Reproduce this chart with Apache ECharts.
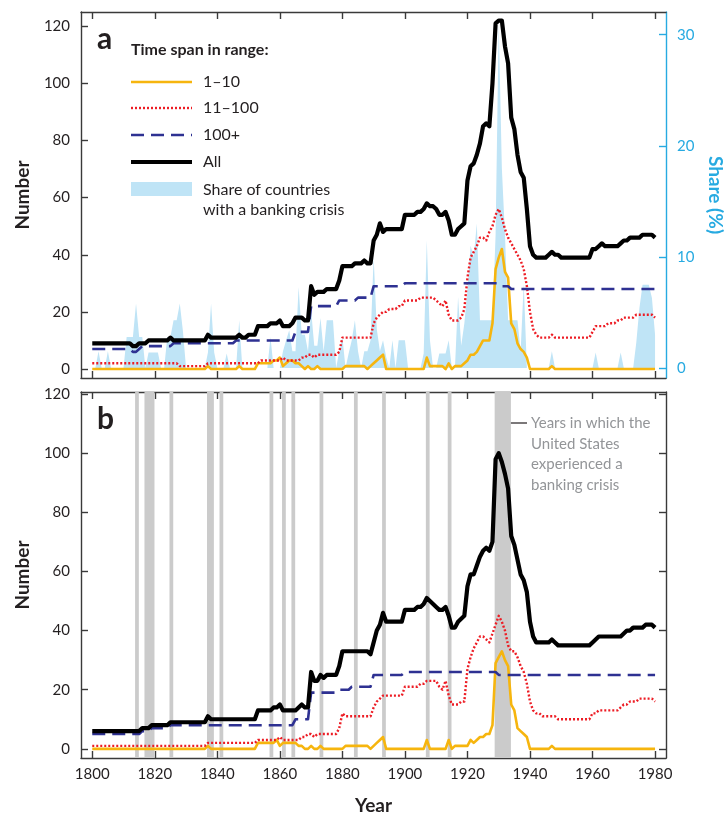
<!DOCTYPE html>
<html>
<head>
<meta charset="utf-8">
<script src="https://cdn.jsdelivr.net/npm/echarts@6/dist/echarts.min.js"></script>
<style>
html,body{margin:0;padding:0;background:#fff;}
#chart{width:725px;height:816px;}
</style>
</head>
<body>
<div id="chart"></div>
<script>
// ---------- DATA ----------
const years = [];
for (let y = 1800; y <= 1980; y++) years.push(y);

const xTicks = [1800, 1820, 1840, 1860, 1880, 1900, 1920, 1940, 1960, 1980];
const numberTicks = [0, 20, 40, 60, 80, 100, 120];
const shareTicks = [0, 10, 20, 30];

// US banking crisis years (panel b shading)
const usCrisisYears = [1814, 1817, 1818, 1819, 1825, 1837, 1838, 1841, 1857, 1861, 1864, 1873, 1884, 1893, 1907, 1914, 1929, 1930, 1931, 1932, 1933];

// Panel a: share of countries with a banking crisis (%)
const shareA = [
 0,0,1.5,0,0,1.5,0,0,0,0,
 0,2.8,2.8,2.8,5.8,2.8,2.8,0,1.4,1.4,
 1.4,1.4,0,0,2.8,2.8,4.3,4.3,5.8,3.3,
 0,0,0,0,0,0,0,1.4,5.8,1.4,
 0,0,0,1.3,0,0,0,4.3,0,0,
 0,0,0,0,0,0,0,2.8,0,0,
 0,1.5,2.5,3.4,1.5,1.5,7.3,3,3,1.5,
 5.2,2,2,4.5,1.5,4.3,4.3,4.3,0,1.5,
 2.8,0,1.3,2.5,4.3,1.5,0,1.5,1.5,2.5,
 10,3.5,1.5,2.5,1,0,2.5,0,2.5,2.5,
 2.5,0,0,0,0,0,1.3,11.5,2.5,0,
 0,1.3,1.3,1.3,2.5,0,0,6.4,2,4,
 7,11,10,13,4.3,4.3,4.3,4.3,4.3,12,
 31,18,12,4.3,4.3,4.3,4.3,1.5,7.6,0,
 0,0,0,0,0,0,0,1.5,0,0,
 0,0,0,0,0,0,0,0,0,0,
 0,1.4,0,0,0,0,0,0,0,1.4,
 0,0,0,0,2.3,5.4,7.5,7.5,7.5,6.3,
 3
];

// Panel a: All
const allA = [
 9,9,9,9,9,9,9,9,9,9,
 9,9,9,8,8,9,9,9,10,10,
 10,10,10,10,10,11,10,10,10,10,
 10,10,10,10,10,10,10,12,11,11,
 11,11,11,11,11,11,11,12,11,11,
 12,12,12,15,15,15,15,16,16,16,
 17,15,15,15,16,18,18,18,17,17,
 29,26,27,27,27,28,28,28,28,31,
 36,36,36,36,37,37,37,38,37,37,
 45,47,51,48,49,49,49,49,49,49,
 54,54,54,54,55,55,56,58,57,57,
 56,54,54,55,52,47,47,49,50,51,
 66,71,72,75,79,85,86,85,100,121,
 122,122,113,107,88,84,75,69,67,56,
 43,40,39,39,39,39,40,41,40,40,
 39,39,39,39,39,39,39,39,39,39,
 42,42,43,44,43,43,43,43,43,44,
 45,45,46,46,46,46,47,47,47,47,
 46
];

// Panel a: 100+
const longA = [
 7,7,7,7,7,7,7,7,7,7,
 7,7,7,6,6,7,8,8,8,8,
 8,8,8,8,8,8,9,9,9,9,
 9,9,9,9,9,9,9,9,9,9,
 9,9,9,9,9,9,10,10,10,10,
 10,10,10,10,10,10,10,10,10,10,
 10,10,10,10,10,13,13,13,13,13,
 22,22,22,22,22,22,22,22,22,24,
 24,24,24,24,24,25,25,25,25,25,
 29,29,29,29,29,29,29,29,29,29,
 30,30,30,30,30,30,30,30,30,30,
 30,30,30,30,30,30,30,30,30,30,
 30,30,30,30,30,30,30,30,30,30,
 30,29,29,29,28,28,28,28,28,28,
 28,28,28,28,28,28,28,28,28,28,
 28,28,28,28,28,28,28,28,28,28,
 28,28,28,28,28,28,28,28,28,28,
 28,28,28,28,28,28,28,28,28,28,
 28
];

// Panel a: 11–100
const midA = [
 2,2,2,2,2,2,2,2,2,2,
 2,2,2,2,2,2,2,2,2,2,
 2,2,2,2,2,2,2,2,1,1,
 1,1,1,1,1,1,1,2,2,2,
 2,2,2,2,2,2,2,2,2,2,
 2,2,2,2,3,3,3,3,3,3,
 3,4,3,3,3,3,3,4,4,5,
 5,4,5,5,5,5,5,5,5,6,
 11,11,11,11,11,11,11,11,11,11,
 16,18,19,20,20,21,21,21,22,22,
 24,24,24,24,24,25,25,25,25,25,
 24,23,22,24,19,17,17,17,18,21,
 32,39,41,43,46,46,45,48,50,54,
 56,53,49,46,44,42,40,38,35,29,
 20,14,12,11,11,11,11,12,11,11,
 11,11,11,11,11,11,11,11,11,11,
 13,15,15,15,15,16,16,16,17,17,
 18,18,18,18,19,19,19,19,19,19,
 18
];

// Panel a: 1–10
const shortA = [
 0,0,0,0,0,0,0,0,0,0,
 0,0,0,0,0,0,0,0,0,0,
 0,0,0,0,0,0,0,0,0,0,
 0,0,0,0,0,0,0,1,0,0,
 0,0,0,0,0,0,0,1,0,0,
 0,0,0,2,2,2,2,2,3,3,
 4,1,2,3,3,2,2,1,0,1,
 0,0,1,0,0,0,0,0,0,0,
 0,1,1,1,1,1,1,1,0,1,
 2,3,4,5,0,0,0,0,0,0,
 0,0,0,0,0,0,0,4,1,1,
 1,1,1,0,2,0,1,1,1,2,
 3,5,5,6,8,10,10,10,16,35,
 39,42,34,32,16,14,9,7,6,4,
 0,0,0,0,0,0,0,1,0,0,
 0,0,0,0,0,0,0,0,0,0,
 0,0,0,0,0,0,0,0,0,0,
 0,0,0,0,0,0,0,0,0,0,
 0
];

// Panel b: All
const allB = [
 6,6,6,6,6,6,6,6,6,6,
 6,6,6,6,6,6,7,7,7,8,
 8,8,8,8,8,9,9,9,9,9,
 9,9,9,9,9,9,9,11,10,10,
 10,10,10,10,10,10,10,10,10,10,
 10,10,10,13,13,13,13,13,14,14,
 15,13,13,13,13,13,14,15,14,14,
 26,23,23,25,24,25,25,25,25,28,
 33,33,33,33,33,33,33,33,33,32,
 36,40,42,46,43,43,43,43,43,43,
 47,47,47,47,48,48,49,51,50,49,
 48,47,47,48,45,41,41,43,44,45,
 55,59,59,62,65,67,68,67,70,98,
 100,97,93,88,72,69,64,59,57,53,
 43,38,36,36,36,36,36,37,36,35,
 35,35,35,35,35,35,35,35,35,35,
 36,37,38,38,38,38,38,38,38,38,
 39,40,40,41,41,41,41,42,42,42,
 41
];

// Panel b: 100+
const longB = [
 5,5,5,5,5,5,5,5,5,5,
 5,5,5,5,5,5,6,6,6,7,
 7,7,7,7,7,8,8,8,8,8,
 8,8,8,8,8,8,8,8,8,8,
 8,8,8,8,8,8,8,8,8,8,
 8,8,8,8,8,8,8,8,8,8,
 8,8,8,8,8,10,10,10,10,10,
 19,19,19,19,19,19,19,19,19,20,
 20,20,20,21,21,21,21,21,21,21,
 25,25,25,25,25,25,25,25,25,25,
 26,26,26,26,26,26,26,26,26,26,
 26,26,26,26,26,26,26,26,26,26,
 26,26,26,26,26,26,26,26,26,26,
 25,25,25,25,25,25,25,25,25,25,
 25,25,25,25,25,25,25,25,25,25,
 25,25,25,25,25,25,25,25,25,25,
 25,25,25,25,25,25,25,25,25,25,
 25,25,25,25,25,25,25,25,25,25,
 25
];

// Panel b: 11–100
const midB = [
 1,1,1,1,1,1,1,1,1,1,
 1,1,1,1,1,1,1,1,1,1,
 1,1,1,1,1,1,1,1,1,1,
 1,1,1,1,1,1,1,2,2,2,
 2,2,2,2,2,2,2,2,2,2,
 2,2,2,3,3,3,3,3,3,3,
 4,3,3,3,3,3,3,4,4,5,
 5,4,5,5,5,5,5,5,5,7,
 12,11,11,11,11,11,11,11,11,11,
 14,16,17,18,18,18,18,18,18,18,
 21,21,21,21,21,22,22,23,23,23,
 23,21,20,23,18,15,15,15,16,16,
 27,31,34,36,38,38,37,36,39,42,
 45,43,40,35,33,33,31,28,26,22,
 16,13,12,12,11,11,11,11,11,10,
 10,10,10,10,10,10,10,10,10,10,
 12,12,13,13,13,13,13,13,13,14,
 15,15,16,16,16,17,17,17,17,17,
 16
];

// Panel b: 1–10
const shortB = [
 0,0,0,0,0,0,0,0,0,0,
 0,0,0,0,0,0,0,0,0,0,
 0,0,0,0,0,0,0,0,0,0,
 0,0,0,0,0,0,0,1,0,0,
 0,0,0,0,0,0,0,0,0,0,
 0,0,0,2,2,2,2,2,2,3,
 1,2,2,2,2,2,1,1,0,0,
 1,0,0,1,0,0,0,0,0,0,
 0,1,1,1,1,1,1,1,1,0,
 1,2,3,4,0,0,0,0,0,0,
 0,0,0,0,0,0,0,3,0,0,
 0,0,0,0,3,0,1,1,1,1,
 1,3,2,3,4,4,5,5,8,29,
 31,33,30,28,15,13,7,6,5,4,
 0,0,0,0,0,0,0,1,0,0,
 0,0,0,0,0,0,0,0,0,0,
 0,0,0,0,0,0,0,0,0,0,
 0,0,0,0,0,0,0,0,0,0,
 0
];

// ---------- BUILD ----------
const pairs = vals => vals.map((v, i) => [years[i], v]);

// merge consecutive crisis years into shaded ranges
const crisisRanges = [];
usCrisisYears.forEach(y => {
  const last = crisisRanges[crisisRanges.length - 1];
  if (last && y === last[1] + 1) last[1] = y; else crisisRanges.push([y, y]);
});
const crisisAreas = crisisRanges.map(r => [{ xAxis: r[0] - 0.3 }, { xAxis: r[1] + 0.9 }]);

const FONT = 'Lato';
const TXT = '#231f20';
const FRAME = '#3a3a3a';
const C_SHORT = '#f6b50e';
const C_MID = '#ed1c24';
const C_LONG = '#2e3192';
const C_ALL = '#000000';
const C_SHARE = '#bfe4f6';
const C_SHARE_AX = '#27aae1';

const styles = {
  short: { color: C_SHORT, width: 2.6, type: 'solid' },
  mid: { color: C_MID, width: 2.4, type: [2, 2] },
  long: { color: C_LONG, width: 2.6, type: [13, 7] },
  all: { color: C_ALL, width: 4.2, type: 'solid' }
};

function lineSeries(name, vals, st, xi, yi, z) {
  return {
    name, type: 'line', data: pairs(vals), xAxisIndex: xi, yAxisIndex: yi,
    symbol: 'none', showSymbol: false, z,
    lineStyle: { color: st.color, width: st.width, type: st.type, cap: 'butt', join: 'round' },
    itemStyle: { color: st.color }
  };
}

const plain = v => String(Math.round(v));
const xBase = { type: 'value', min: 1796.4, max: 1983.5, splitLine: { show: false } };
function xAx(grid, pos, labels, extra) {
  return Object.assign({}, xBase, {
    gridIndex: grid, position: pos,
    axisLine: { show: true, onZero: false, lineStyle: { color: FRAME, width: 1.4 } },
    axisTick: { show: true, inside: true, length: 7, customValues: xTicks, lineStyle: { color: FRAME, width: 1.4 } },
    axisLabel: { show: labels, customValues: xTicks, formatter: plain, fontFamily: FONT, fontSize: 15, color: TXT, margin: 9 }
  }, extra || {});
}
function yAx(grid, pos, min, max, ticks, labels, color, extra) {
  return Object.assign({
    type: 'value', gridIndex: grid, position: pos, min, max,
    splitLine: { show: false },
    axisLine: { show: true, onZero: false, lineStyle: { color: color, width: 1.4 } },
    axisTick: { show: true, inside: true, length: 7, customValues: ticks, lineStyle: { color: color, width: 1.4 } },
    axisLabel: { show: labels, customValues: ticks, formatter: plain, fontFamily: FONT, fontSize: 15, color: color === FRAME ? TXT : color, margin: 11 }
  }, extra || {});
}

const option = {
  animation: false,
  backgroundColor: '#ffffff',
  grid: [
    { left: 81, top: 12, width: 585, height: 366, containLabel: false, outerBoundsMode: 'none' },
    { left: 81, top: 392, width: 585, height: 366, containLabel: false, outerBoundsMode: 'none' }
  ],
  xAxis: [
    xAx(0, 'bottom', false),
    xAx(0, 'top', false),
    xAx(1, 'bottom', true, { name: 'Year', nameLocation: 'middle', nameGap: 38,
      nameTextStyle: { fontFamily: FONT, fontWeight: 'bold', fontSize: 19, color: TXT } }),
    xAx(1, 'top', false)
  ],
  yAxis: [
    yAx(0, 'left', -3.15, 125, numberTicks, true, FRAME, { name: 'Number', nameLocation: 'middle', nameGap: 49,
      nameTextStyle: { fontFamily: FONT, fontWeight: 'bold', fontSize: 19, color: TXT } }),
    yAx(0, 'right', -0.9, 32.04, shareTicks, true, C_SHARE_AX, { name: 'Share (%)', nameLocation: 'middle', nameGap: 38, nameRotate: -90,
      nameTextStyle: { fontFamily: FONT, fontWeight: 'bold', fontSize: 19, color: C_SHARE_AX } }),
    yAx(1, 'left', -3.1, 120.7, numberTicks, true, FRAME, { name: 'Number', nameLocation: 'middle', nameGap: 49,
      nameTextStyle: { fontFamily: FONT, fontWeight: 'bold', fontSize: 19, color: TXT } }),
    yAx(1, 'right', -3.1, 120.7, numberTicks, false, FRAME)
  ],
  series: [
    {
      name: 'Share of countries with a banking crisis', type: 'line', data: pairs(shareA),
      xAxisIndex: 0, yAxisIndex: 1, symbol: 'none', z: 1,
      lineStyle: { width: 0, color: C_SHARE }, areaStyle: { color: C_SHARE, opacity: 1 }, itemStyle: { color: C_SHARE }
    },
    lineSeries('1–10', shortA, styles.short, 0, 0, 3),
    lineSeries('11–100', midA, styles.mid, 0, 0, 4),
    lineSeries('100+', longA, styles.long, 0, 0, 5),
    lineSeries('All', allA, styles.all, 0, 0, 6),
    Object.assign(lineSeries('1–10 (b)', shortB, styles.short, 2, 2, 3), {
      markArea: { silent: true, itemStyle: { color: '#cbcbcb' }, data: crisisAreas, z: 1 }
    }),
    lineSeries('11–100 (b)', midB, styles.mid, 2, 2, 4),
    lineSeries('100+ (b)', longB, styles.long, 2, 2, 5),
    lineSeries('All (b)', allB, styles.all, 2, 2, 6)
  ],
  graphic: [
    { type: 'text', x: 97, y: 24, style: { text: 'a', font: `bold 30px ${FONT}`, fill: TXT } },
    { type: 'text', x: 131, y: 50, style: { text: 'Time span in range:', font: `bold 16px ${FONT}`, fill: TXT, verticalAlign: 'middle' } },
    { type: 'line', shape: { x1: 131, y1: 82, x2: 192, y2: 82 }, style: { stroke: C_SHORT, lineWidth: 2.6 } },
    { type: 'text', x: 203, y: 82, style: { text: '1–10', font: `16px ${FONT}`, fill: TXT, verticalAlign: 'middle' } },
    { type: 'line', shape: { x1: 131, y1: 108, x2: 192, y2: 108 }, style: { stroke: C_MID, lineWidth: 2.4, lineDash: [2, 2] } },
    { type: 'text', x: 203, y: 108, style: { text: '11–100', font: `16px ${FONT}`, fill: TXT, verticalAlign: 'middle' } },
    { type: 'line', shape: { x1: 131, y1: 135, x2: 192, y2: 135 }, style: { stroke: C_LONG, lineWidth: 2.6, lineDash: [13, 7] } },
    { type: 'text', x: 203, y: 135, style: { text: '100+', font: `16px ${FONT}`, fill: TXT, verticalAlign: 'middle' } },
    { type: 'line', shape: { x1: 131, y1: 162, x2: 192, y2: 162 }, style: { stroke: C_ALL, lineWidth: 4.2 } },
    { type: 'text', x: 203, y: 162, style: { text: 'All', font: `16px ${FONT}`, fill: TXT, verticalAlign: 'middle' } },
    { type: 'rect', shape: { x: 131, y: 182, width: 61, height: 14 }, style: { fill: C_SHARE } },
    { type: 'text', x: 203, y: 190, style: { text: 'Share of countries', font: `16px ${FONT}`, fill: TXT, verticalAlign: 'middle' } },
    { type: 'text', x: 203, y: 210, style: { text: 'with a banking crisis', font: `16px ${FONT}`, fill: TXT, verticalAlign: 'middle' } },

    { type: 'text', x: 97, y: 404, style: { text: 'b', font: `bold 30px ${FONT}`, fill: TXT } },
    { type: 'line', shape: { x1: 503, y1: 423, x2: 527, y2: 423 }, style: { stroke: TXT, lineWidth: 1.2 } },
    { type: 'text', x: 531, y: 413, style: { text: 'Years in which the\nUnited States\nexperienced a\nbanking crisis', font: `15px ${FONT}`, fill: '#939598', verticalAlign: 'top', lineHeight: 20.5 } }
  ]
};

const chart = echarts.init(document.getElementById('chart'), null, { renderer: 'canvas' });
chart.setOption(option);
</script>
</body>
</html>
